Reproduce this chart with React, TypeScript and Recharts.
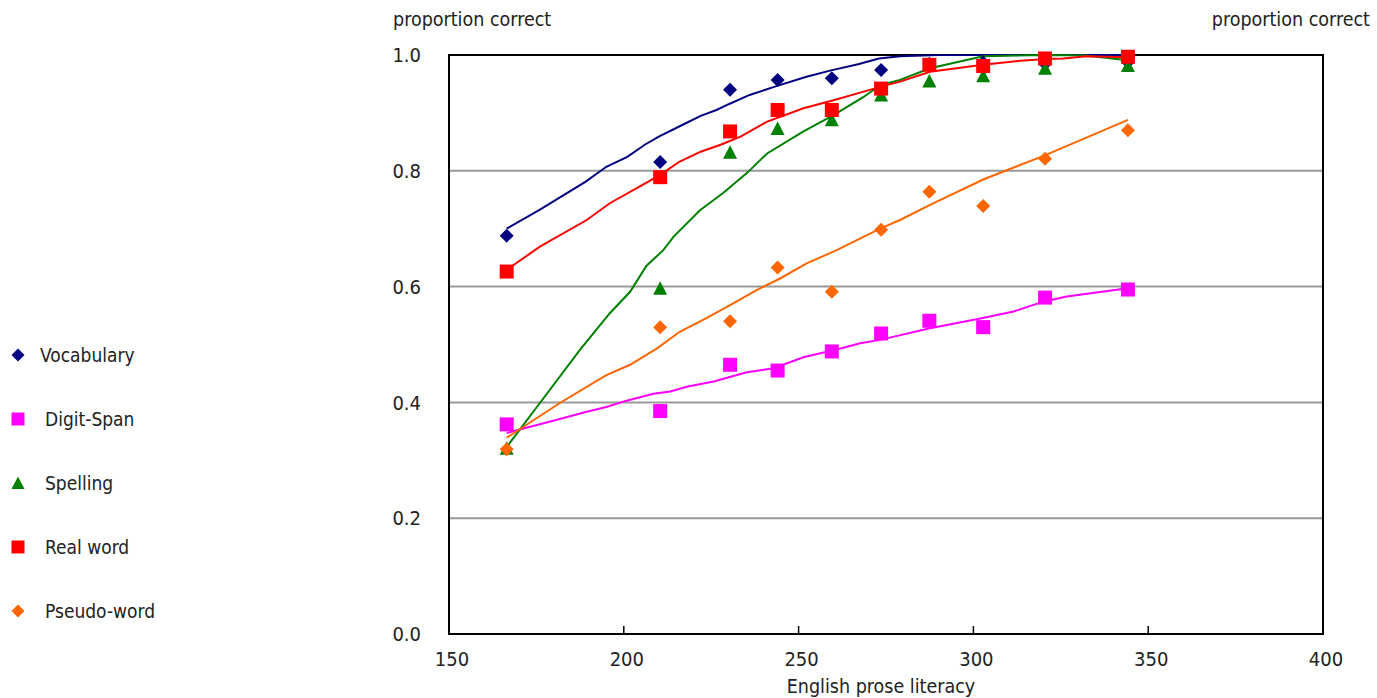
import React from 'react'
import { ComposedChart, Line, Scatter, XAxis, YAxis, CartesianGrid, ReferenceArea, Legend } from 'recharts'

const FONT = "'Liberation Sans Narrow', 'DejaVu Sans Condensed', 'Liberation Sans', sans-serif"
const TEXT = '#222'

// literacy score of each tested group
const literacy = [166.5, 210.4, 230.4, 244.0, 259.5, 273.6, 287.4, 302.8, 320.5, 344.2]

// proportion correct per task
const vocabulary = [0.688, 0.815, 0.940, 0.957, 0.960, 0.974, 0.985, 0.987, 0.985, 0.988]
const digitSpan = [0.362, 0.385, 0.465, 0.455, 0.488, 0.519, 0.541, 0.530, 0.581, 0.595]
const spelling = [0.321, 0.597, 0.832, 0.873, 0.888, 0.931, 0.955, 0.964, 0.977, 0.982]
const realWord = [0.626, 0.789, 0.868, 0.905, 0.905, 0.942, 0.983, 0.981, 0.994, 0.997]
const pseudoWord = [0.319, 0.530, 0.540, 0.633, 0.591, 0.698, 0.764, 0.739, 0.821, 0.870]

// fitted curves, [literacy, proportion]
const vocabularyFit = [
  [166.5, 0.700], [176, 0.733], [189, 0.781], [195, 0.807], [201, 0.824], [206, 0.845],
  [210, 0.859], [217, 0.880], [222, 0.895], [226.5, 0.905], [230, 0.915], [236, 0.931],
  [243, 0.945], [252, 0.962], [259, 0.973], [267, 0.984], [273, 0.994], [279, 0.998],
  [290, 1.0], [303, 1.0], [320, 1.0], [344.2, 1.0],
]
const digitSpanFit = [
  [166.5, 0.347], [169.4, 0.352], [179, 0.367], [189.4, 0.384], [195, 0.392], [200.8, 0.403],
  [208.5, 0.415], [213.3, 0.419], [218, 0.427], [225.7, 0.436], [235.2, 0.452], [242.8, 0.459],
  [251.4, 0.478], [262, 0.493], [267.6, 0.502], [273.3, 0.508], [287.6, 0.528], [302, 0.545],
  [311.5, 0.557], [320, 0.574], [326.7, 0.583], [344.2, 0.597],
]
const spellingFit = [
  [166.5, 0.323], [176, 0.399], [187.5, 0.491], [196, 0.554], [201.8, 0.591], [206.5, 0.636],
  [211.3, 0.663], [214.2, 0.686], [221.8, 0.732], [228.5, 0.762], [235.2, 0.796], [241, 0.830],
  [251.4, 0.868], [260, 0.896], [268.7, 0.928], [273.3, 0.948], [279, 0.957], [287.6, 0.977],
  [302.8, 0.998], [320.9, 1.0], [332, 0.999], [344.2, 0.991],
]
const realWordFit = [
  [166.5, 0.629], [176, 0.669], [189.4, 0.715], [196, 0.744], [204.6, 0.773], [210.4, 0.793],
  [216, 0.816], [222, 0.833], [227.7, 0.845], [233.4, 0.859], [241, 0.885], [251.4, 0.908],
  [260, 0.922], [267.6, 0.935], [273.3, 0.945], [279, 0.954], [287.6, 0.971], [302.8, 0.983],
  [313.4, 0.990], [320.9, 0.993], [325.7, 0.994], [332.4, 0.998], [344.2, 0.996],
]
const pseudoWordFit = [
  [166.5, 0.339], [181.7, 0.399], [195, 0.447], [201.8, 0.465], [209.4, 0.493], [216, 0.522],
  [223.5, 0.545], [230.4, 0.568], [238, 0.594], [244.7, 0.614], [252.3, 0.640], [260.9, 0.663],
  [273.3, 0.700], [279, 0.715], [287.6, 0.741], [302.8, 0.785], [320.6, 0.827], [344.2, 0.888],
]

const xTicks = [150, 200, 250, 300, 350, 400]
const yTicks = [0, 0.2, 0.4, 0.6, 0.8, 1]

type Shape = 'diamond' | 'square' | 'triangle'

const series = [
  { name: 'Vocabulary', color: '#000080', shape: 'diamond' as Shape, values: vocabulary, fit: vocabularyFit },
  { name: 'Digit-Span', color: '#FF00FF', shape: 'square' as Shape, values: digitSpan, fit: digitSpanFit },
  { name: 'Spelling', color: '#008000', shape: 'triangle' as Shape, values: spelling, fit: spellingFit },
  { name: 'Real word', color: '#FF0000', shape: 'square' as Shape, values: realWord, fit: realWordFit },
  { name: 'Pseudo-word', color: '#FF6600', shape: 'diamond' as Shape, values: pseudoWord, fit: pseudoWordFit },
]

function marker(shape: Shape, color: string, cx: number, cy: number, r: number) {
  if (shape === 'diamond')
    return <path d={`M${cx},${cy - r}L${cx + r},${cy}L${cx},${cy + r}L${cx - r},${cy}Z`} fill={color} />
  if (shape === 'square')
    return <rect x={cx - r} y={cy - r} width={2 * r} height={2 * r} fill={color} />
  return <path d={`M${cx},${cy - r}L${cx + r},${cy + r - 0.5}L${cx - r},${cy + r - 0.5}Z`} fill={color} />
}

const XTick = (props: any) => {
  const { x, y, payload } = props
  return (
    <g>
      <line x1={x} x2={x} y1={y - 14} y2={y - 22} stroke="#000" strokeWidth={1.5} />
      <text x={x + 3} y={y + 18} textAnchor="middle" fill={TEXT} fontSize={20} fontFamily={FONT}>
        {payload.value}
      </text>
    </g>
  )
}

const renderLegend = () => (
  <div style={{ fontFamily: FONT, fontSize: 19, color: TEXT }}>
    {series.map((s, i) => (
      <div key={s.name} style={{ height: 64, position: 'relative' }}>
        <svg width={16} height={16} style={{ position: 'absolute', left: 10, top: 24 }}>
          {marker(s.shape, s.color, 8, 8, 6.5)}
        </svg>
        <span style={{ position: 'absolute', left: i === 0 ? 40 : 45, top: 21 }}>{s.name}</span>
      </div>
    ))}
  </div>
)

export default function App() {
  return (
    <div>
      <style>{'body{margin:0}'}</style>
      <ComposedChart
        width={1377}
        height={698}
        margin={{ top: 55, right: 0, bottom: 0, left: 389 }}
        style={{ fontFamily: FONT }}
      >
        <CartesianGrid horizontal vertical={false} stroke="#999" strokeWidth={2} />
        <XAxis
          type="number"
          dataKey="x"
          domain={[150, 400]}
          ticks={xTicks}
          height={64}
          axisLine={false}
          tickLine={false}
          tickSize={0}
          tickMargin={14}
          tick={<XTick />}
          interval={0}
          label={{
            content: (p: any) => (
              <text
                x={p.viewBox.x + p.viewBox.width / 2 - 5}
                y={p.viewBox.y + 59}
                textAnchor="middle"
                fill={TEXT}
                fontSize={19.5}
                fontFamily={FONT}
              >
                English prose literacy
              </text>
            ),
          }}
        />
        <YAxis
          type="number"
          domain={[0, 1]}
          ticks={yTicks}
          width={60}
          axisLine={false}
          tickLine={false}
          tickSize={0}
          tickMargin={28}
          interval={0}
          tickFormatter={(v: number) => v.toFixed(1)}
          tick={{ fill: TEXT, fontSize: 20, fontFamily: FONT }}
          label={{
            content: (p: any) => (
              <text x={p.viewBox.x + 4} y={p.viewBox.y - 29} fill={TEXT} fontSize={19.5} fontFamily={FONT}>
                proportion correct
              </text>
            ),
          }}
        />
        <YAxis
          yAxisId="right"
          orientation="right"
          type="number"
          domain={[0, 1]}
          ticks={yTicks}
          width={54}
          axisLine={false}
          tickLine={false}
          tickSize={0}
          tickMargin={10}
          interval={0}
          tickFormatter={(v: number) => v.toFixed(1)}
          tick={{ fill: TEXT, fontSize: 20, fontFamily: FONT }}
          label={{
            content: (p: any) => (
              <text
                x={p.viewBox.x + p.viewBox.width - 7}
                y={p.viewBox.y - 29}
                textAnchor="end"
                fill={TEXT}
                fontSize={19.5}
                fontFamily={FONT}
              >
                proportion correct
              </text>
            ),
          }}
        />
        <ReferenceArea x1={150} x2={400} y1={0} y2={1} fill="none" stroke="#000" strokeWidth={2} ifOverflow="visible" />
        {series.map((s) => (
          <Line
            key={s.name + '-fit'}
            data={s.fit.map(([x, y]) => ({ x, y }))}
            dataKey="y"
            type="linear"
            stroke={s.color}
            strokeWidth={2}
            dot={false}
            activeDot={false}
            legendType="none"
            isAnimationActive={false}
          />
        ))}
        {series.map((s) => (
          <Scatter
            key={s.name}
            name={s.name}
            data={literacy.map((x, i) => ({ x, y: s.values[i] }))}
            dataKey="y"
            fill={s.color}
            shape={(p: any) => marker(s.shape, s.color, p.cx, p.cy, 7)}
            isAnimationActive={false}
          />
        ))}
        <Legend
          layout="vertical"
          align="center"
          verticalAlign="middle"
          wrapperStyle={{ left: 0, top: 323, width: 180 }}
          content={renderLegend}
        />
      </ComposedChart>
    </div>
  )
}
